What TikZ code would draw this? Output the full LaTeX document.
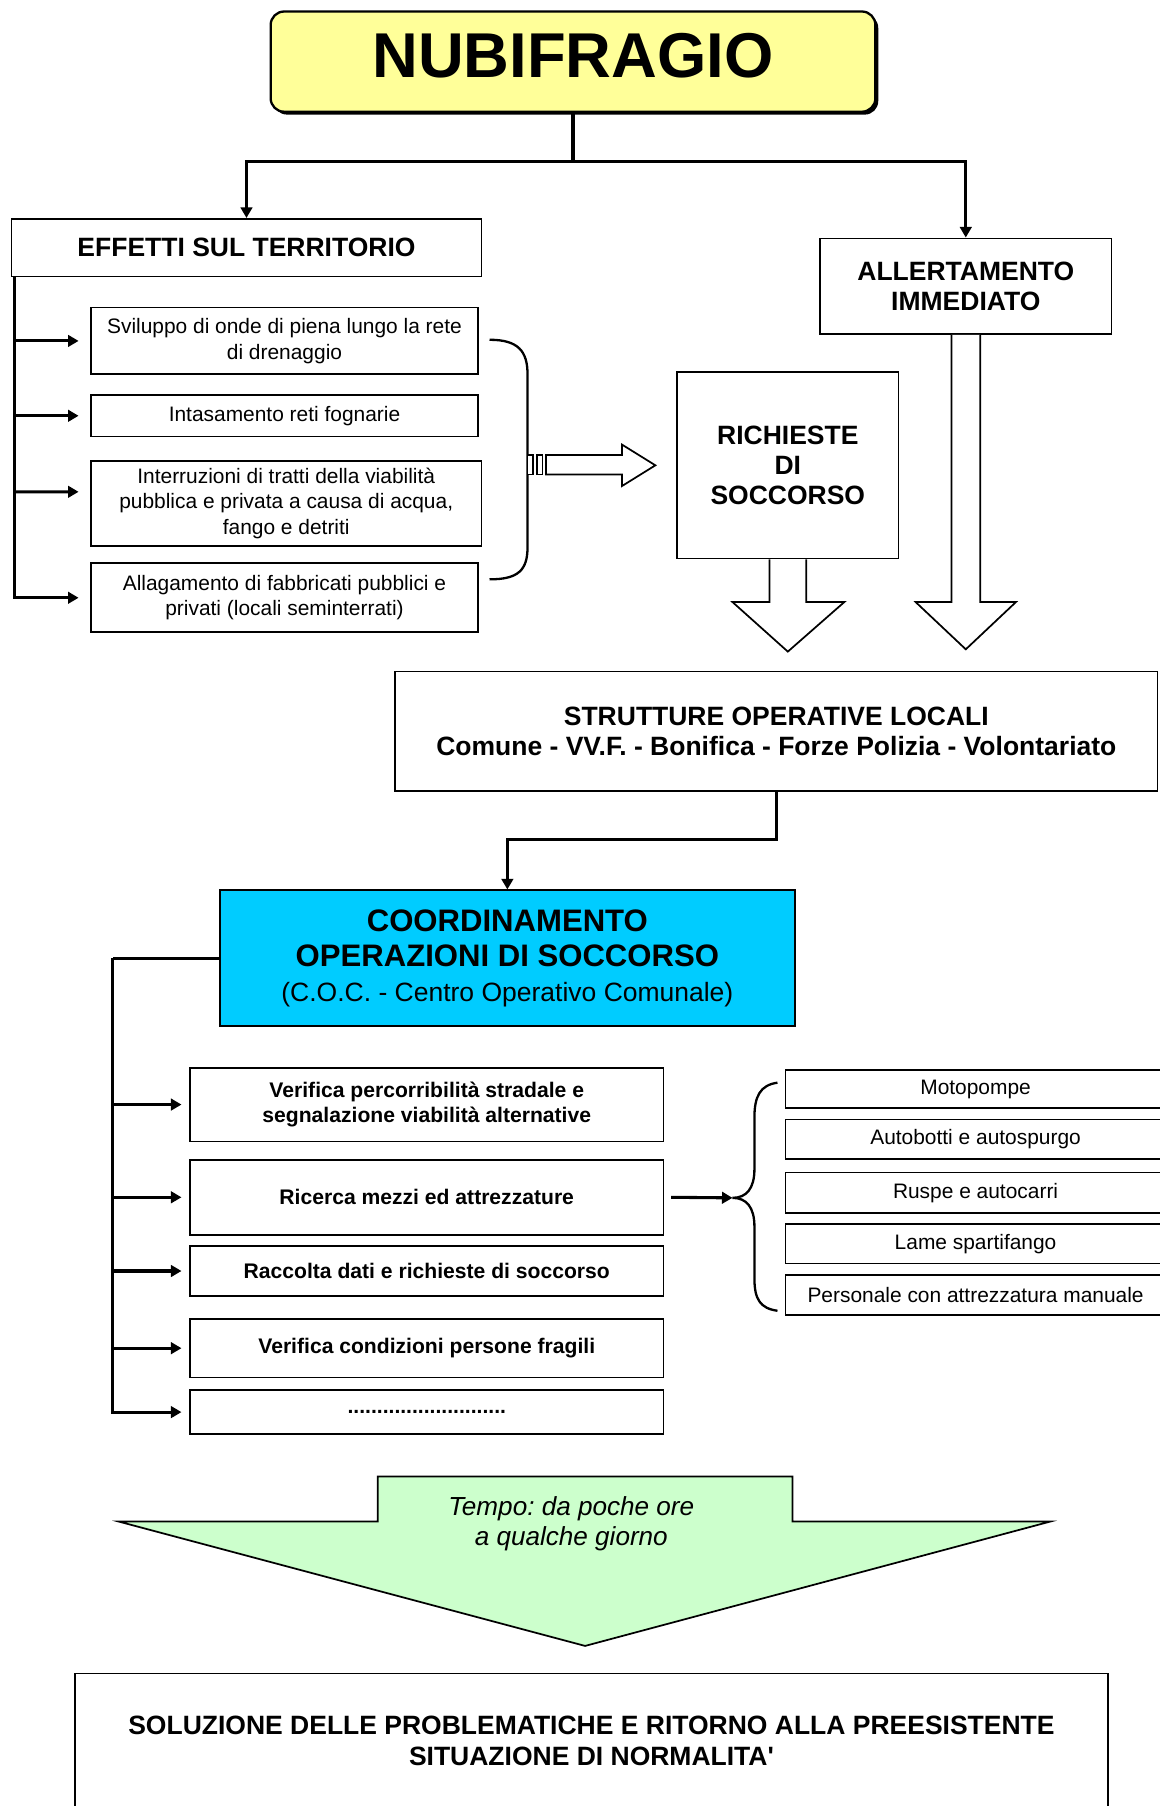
\documentclass[tikz,border=0pt]{standalone}
\usepackage{fontspec}
\setmainfont{Liberation Sans}
\usetikzlibrary{arrows.meta,shadows}
\definecolor{nubiyellow}{HTML}{FFFF99}
\definecolor{cocblue}{HTML}{00CCFF}
\definecolor{tempogreen}{HTML}{CCFFCC}
\newcommand{\px}{0.6pt}
\newcommand{\headfont}{\fontsize{13.8}{15.8}\selectfont\bfseries}
\newcommand{\smallfont}{\fontsize{10.9}{13.3}\selectfont}
\newcommand{\taskfont}{\fontsize{11}{12.6}\selectfont\bfseries}
\frenchspacing
\begin{document}
\begin{tikzpicture}[x=\px, y=-\px,
  conn/.style={line width=1.6pt},
  arr/.style={conn, -{Triangle[length=5.5pt,width=6pt]}},
  box/.style 2 args={draw, line width=0.9pt, fill=white, align=center, inner sep=0pt, minimum width=#1*\px, minimum height=#2*\px},
  blockarrow/.style={draw, line width=0.9pt, fill=white, line join=miter}]
\useasboundingbox (0,0) rectangle (1007,1568);
\node[box={525}{87}, rounded corners=7pt, fill=nubiyellow, line width=1.2pt, drop shadow={shadow xshift=1.5pt, shadow yshift=-1.5pt, opacity=1, fill=black}, text depth=6pt, font=\fontsize{33}{36}\selectfont\bfseries] (nubi) at (497.5,53.5) {NUBIFRAGIO};
\node[box={408}{50}, font=\headfont] (effetti) at (214,215) {EFFETTI SUL TERRITORIO};
\node[box={253}{83}, font=\headfont] (allert) at (838.5,248.5) {ALLERTAMENTO\\IMMEDIATO};
\coordinate (split) at (497.5,140);
\draw[conn] (nubi.south) -- (split);
\draw[arr] (split) -| (effetti.north);
\draw[arr] (split) -| (allert.north);
\node[box={336}{58}, font=\smallfont] (s1) at (247,296) {Sviluppo di onde di piena lungo la rete\\di drenaggio};
\node[box={336}{36}, font=\smallfont] (s2) at (247,361) {Intasamento reti fognarie};
\node[box={339}{74}, font=\smallfont] (s3) at (248.5,437) {Interruzioni di tratti della viabilità\\pubblica e privata a causa di acqua,\\fango e detriti};
\node[box={336}{60}, font=\smallfont] (s4) at (247,519) {Allagamento di fabbricati pubblici e\\privati (locali seminterrati)};
\coordinate (espine) at ([xshift=3*\px]effetti.south west);
\draw[arr, shorten >=6pt] (espine) |- (s4.west);
\draw[arr, shorten >=6pt] (espine |- s1.west) -- (s1.west);
\draw[arr, shorten >=6pt] (espine |- s2.west) -- (s2.west);
\draw[arr, shorten >=6pt] (espine |- s3.west) ++(0,-10) -- ([yshift=6pt]s3.west);
\draw[line width=1.2pt] (425,295) .. controls (450,295) and (458,305) .. (458,325) -- (458,475) .. controls (458,495) and (450,503) .. (425,503);
\draw[blockarrow] (458,395) rectangle (463,412);
\draw[blockarrow] (466,395) rectangle (471,412);
\draw[blockarrow] (474,395) -- (540,395) -- (540,386) -- (569,404) -- (540,422) -- (540,412) -- (474,412) -- cycle;
\node[box={192}{162}, font=\headfont] (rich) at (684,404) {RICHIESTE\\DI\\SOCCORSO};
\draw[blockarrow] ([xshift=-16*\px]rich.south) -- ++(0,37) -- ++(-32,0) -- ++(48,43) -- ++(49,-43) -- ++(-33,0) -- ++(0,-37);
\draw[blockarrow] ([xshift=-12.5*\px]allert.south) -- ++(0,232) -- ++(-31,0) -- ++(43.5,41) -- ++(43.5,-41) -- ++(-31,0) -- ++(0,-232);
\node[box={662}{104}, font=\headfont] (strutt) at (674,635) {STRUTTURE OPERATIVE LOCALI\\Comune - VV.F. - Bonifica - Forze Polizia - Volontariato};
\node[box={499}{118}, fill=cocblue, font=\fontsize{16.2}{18.3}\selectfont\bfseries] (coord) at (440.5,832) {COORDINAMENTO\\OPERAZIONI DI SOCCORSO\\{\fontsize{13.8}{18.3}\selectfont\mdseries (C.O.C. - Centro Operativo Comunale)}};
\draw[arr] (strutt.south) -- ++(0,41) -| (coord.north);
\node[box={411}{64}, font=\taskfont] (v1) at (370.5,959) {Verifica percorribilità stradale e\\segnalazione viabilità alternative};
\node[box={411}{65}, font=\taskfont] (v2) at (370.5,1039.5) {Ricerca mezzi ed attrezzature};
\node[box={411}{43}, font=\taskfont] (v3) at (370.5,1103.5) {Raccolta dati e richieste di soccorso};
\node[box={411}{51}, font=\taskfont] (v4) at (370.5,1170.5) {Verifica condizioni persone fragili};
\node[box={411}{38}, font=\taskfont] (v5) at (370.5,1226) {...........................};
\coordinate (cspine) at (98,832);
\draw[conn] (coord.west) -- (cspine);
\draw[arr, shorten >=4pt] (cspine) |- (v5.west);
\draw[arr, shorten >=4pt] (cspine |- v1.west) -- (v1.west);
\draw[arr, shorten >=4pt] (cspine |- v2.west) -- (v2.west);
\draw[arr, shorten >=4pt] (cspine |- v3.west) -- (v3.west);
\draw[arr, shorten >=4pt] (cspine |- v4.west) -- (v4.west);
\node[box={330}{33}, font=\smallfont] (m1) at (847,945.5) {Motopompe};
\node[box={330}{34}, font=\smallfont] (m2) at (847,989) {Autobotti e autospurgo};
\node[box={330}{35}, font=\smallfont] (m3) at (847,1035.5) {Ruspe e autocarri};
\node[box={330}{34}, font=\smallfont] (m4) at (847,1080) {Lame spartifango};
\node[box={330}{35}, font=\smallfont] (m5) at (847,1124.5) {Personale con attrezzatura manuale};
\coordinate (bmid) at (636,1040);
\draw[line width=1.2pt] (675,940) .. controls (660,942) and (655,952) .. (655,970) -- (655,1015) .. controls (655,1032) and (648,1040) .. (bmid) .. controls (648,1040) and (655,1048) .. (655,1065) -- (655,1110) .. controls (655,1128) and (660,1136) .. (675,1138);
\draw[arr] ([xshift=6*\px]v2.east) -- (bmid);
\draw[line width=0.9pt, fill=tempogreen, line join=miter] (328,1282) -- (688,1282) -- (688,1321) -- (912,1321) -- (508,1429) -- (103,1321) -- (328,1321) -- cycle;
\node[align=center, inner sep=0pt, font=\fontsize{13.6}{15.6}\selectfont\itshape] (tempo) at (496,1323) {Tempo: da poche ore\\a qualche giorno};
\node[box={897}{117}, font=\headfont] (sol) at (513.5,1511.5) {SOLUZIONE DELLE PROBLEMATICHE E RITORNO ALLA PREESISTENTE\\SITUAZIONE DI NORMALITA\textquotesingle};
\end{tikzpicture}
\end{document}
